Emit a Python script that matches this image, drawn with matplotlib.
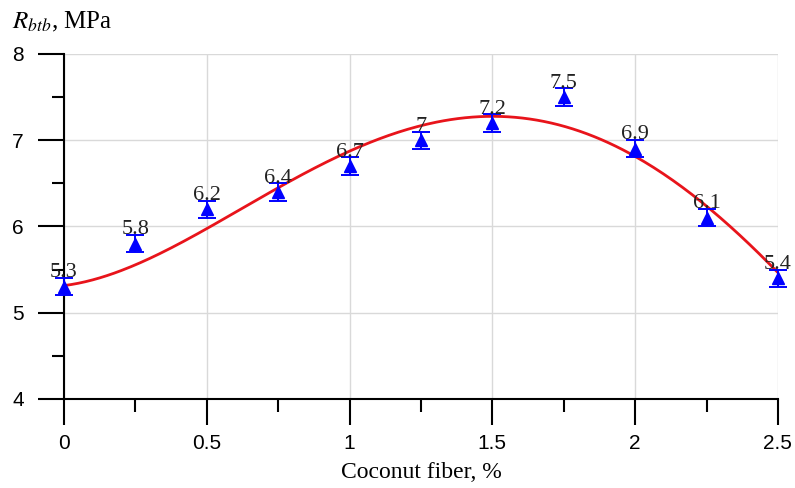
import numpy as np
import matplotlib.pyplot as plt
from matplotlib.ticker import MultipleLocator

plt.rcParams['mathtext.fontset'] = 'stix'

fiber = [0, 0.25, 0.5, 0.75, 1.0, 1.25, 1.5, 1.75, 2.0, 2.25, 2.5]
strength = [5.3, 5.8, 6.2, 6.4, 6.7, 7.0, 7.2, 7.5, 6.9, 6.1, 5.4]
labels = ['5.3', '5.8', '6.2', '6.4', '6.7', '7', '7.2', '7.5', '6.9', '6.1', '5.4']
err = 0.1

# red trend line, values at each fiber content
trend = [5.30, 5.58, 5.99, 6.43, 6.85, 7.16, 7.29, 7.20, 6.82, 6.18, 5.49]

coef = np.polyfit(fiber, trend, 4)
xs = np.linspace(0, 2.5, 300)
ys = np.polyval(coef, xs)

fig = plt.figure(figsize=(7.95, 4.88), dpi=100)
ax = fig.add_axes([0.0805, 0.1824, 0.898, 0.707])

ax.plot(xs, ys, color='#e8141b', lw=2, zorder=3)
ax.errorbar(fiber, strength, yerr=err, fmt='^', color='#0000ff', ms=9,
            capsize=6.5, capthick=1.4, elinewidth=1.4, zorder=4, clip_on=False)

for x, y, t in zip(fiber, strength, labels):
    ax.annotate(t, (x, y + err), xytext=(0, -3), textcoords='offset points',
                ha='center', va='bottom', fontsize=16, family='Liberation Serif',
                color='#222222', zorder=5)

ax.set_xlim(0, 2.5)
ax.set_ylim(4, 8)
ax.xaxis.set_major_locator(MultipleLocator(0.5))
ax.xaxis.set_minor_locator(MultipleLocator(0.25))
ax.yaxis.set_major_locator(MultipleLocator(1))
ax.yaxis.set_minor_locator(MultipleLocator(0.5))
ax.set_xticks([0, 0.5, 1, 1.5, 2, 2.5])
ax.set_xticklabels(['0', '0.5', '1', '1.5', '2', '2.5'])

ax.grid(True, which='major', color='#d9d9d9', lw=1)
ax.spines['top'].set_visible(False)
ax.spines['right'].set_visible(False)
ax.spines['left'].set_linewidth(1.5)
ax.spines['bottom'].set_linewidth(1.5)
ax.tick_params(which='major', direction='out', length=19, width=1.5,
               labelsize=15)
ax.tick_params(axis='y', which='major', pad=10)
ax.tick_params(axis='x', which='major', pad=6)
ax.tick_params(which='minor', direction='out', length=9, width=1.5)
for lab in ax.get_xticklabels() + ax.get_yticklabels():
    lab.set_family('Liberation Sans')

ax.set_xlabel('Coconut fiber, %', family='Liberation Serif', fontsize=17, labelpad=7)
fig.text(0.015, 0.955, r'$R_{btb}$, MPa', family='Liberation Serif', fontsize=18,
         ha='left', va='center')

fig.savefig('out.png', dpi=100)
